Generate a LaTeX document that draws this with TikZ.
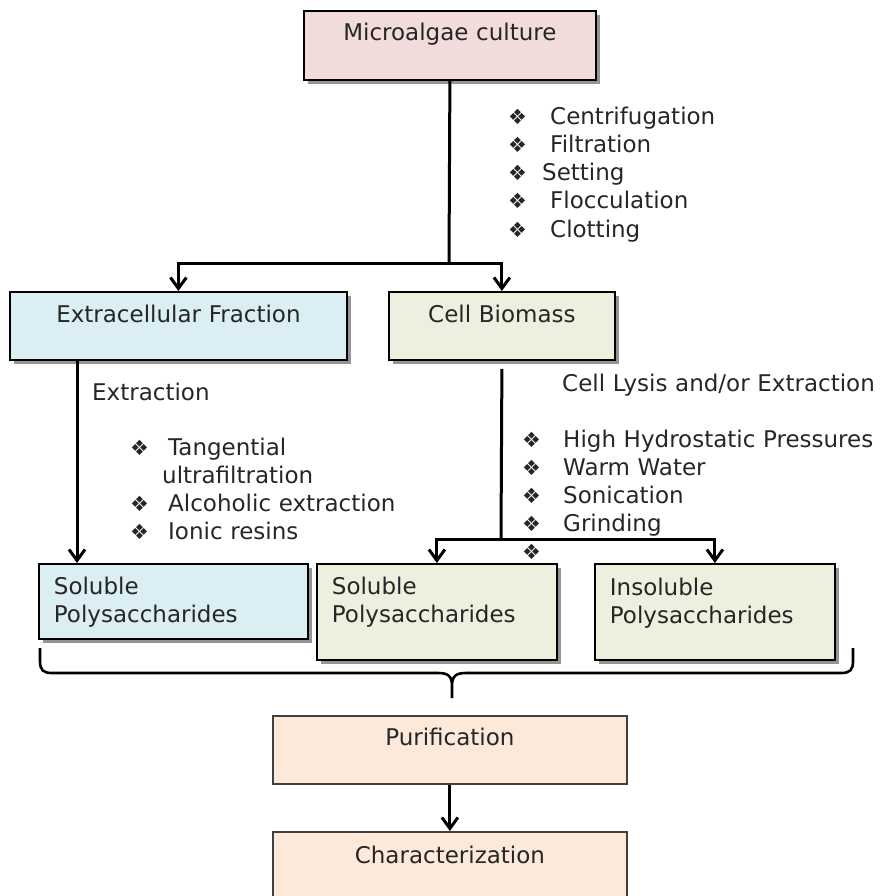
\documentclass[tikz,border=0pt]{standalone}
\usepackage{fontspec}
\setmainfont{DejaVu Sans}
\usepackage{tikz}
\usetikzlibrary{positioning,arrows.meta,shadows}
\definecolor{mypink}{RGB}{242,220,219}
\definecolor{myblue}{RGB}{219,238,244}
\definecolor{mygreen}{RGB}{235,241,222}
\definecolor{mypeach}{RGB}{253,233,217}
\newcommand{\bulsym}{{\fontsize{21}{24}\selectfont\char"2756}}
\newcommand{\bitem}[2][42pt]{\makebox[#1][l]{\bulsym}#2}
\tikzset{
  flowpic/.style={
    x=1pt
    ,y=-1pt
  }
  ,boxfont/.style={font=\fontsize{23}{28}\selectfont\color{black!85}}
  ,stepbox/.style={
    draw=black, line width=1.8pt,
    inner xsep=0pt, inner ysep=0pt,
    anchor=north west,
    align=center,
    boxfont
  }
  ,shadowed/.style={drop shadow={shadow xshift=4pt,shadow yshift=-4pt,fill=black!42,opacity=1}}
  ,leftbox/.style={stepbox,inner xsep=15pt,align=left}
  ,culture/.style={stepbox,shadowed,fill=mypink}
  ,extrabox/.style={stepbox,shadowed,fill=myblue}
  ,cellbox/.style={stepbox,shadowed,fill=mygreen}
  ,solbluebox/.style={leftbox,shadowed,fill=myblue}
  ,solgreenbox/.style={leftbox,shadowed,fill=mygreen}
  ,finalbox/.style={stepbox,draw=black!75,fill=mypeach}
  ,methods/.style={anchor=base west,inner sep=0pt,align=left,text width=420pt,boxfont}
  ,line/.style={line width=3pt}
  ,arrow/.style={line,-{Straight Barb[length=11pt,width=16pt]}}
  ,brace/.style={line width=2.6pt}
}
\begin{document}
\begin{tikzpicture}[flowpic]
  \useasboundingbox (0,0) rectangle (882,896);

  % top
  \node[culture,text width=292pt,text height=30pt,text depth=39pt] (culture) at (303,10) {Microalgae culture};
  \node[methods] (harvest) at (508,125) {\bitem{Centrifugation}\\ \bitem{Filtration}\\ \bitem[34pt]{Setting}\\ \bitem{Flocculation}\\ \bitem{Clotting}};

  % second row
  \node[extrabox,text width=337pt,text height=31pt,text depth=37pt] (extra) at (9,291) {Extracellular Fraction};
  \node[cellbox,text width=226pt,text height=31pt,text depth=37pt] (biomass) at (388,291) {Cell Biomass};

  % methods between rows
  \node[methods] (extraction) at (92,400) {Extraction};
  \node[methods] (extrlist) at (130,455) {\bitem[38pt]{Tangential}\\ \hspace*{32pt}ultrafiltration\\ \bitem[38pt]{Alcoholic extraction}\\ \bitem[38pt]{Ionic resins}};
  \node[methods] (lysis) at (562,391) {Cell Lysis and/or Extraction};
  \node[methods] (lysislist) at (522,447) {\bitem[41pt]{High Hydrostatic Pressures}\\ \bitem[41pt]{Warm Water}\\ \bitem[41pt]{Sonication}\\ \bitem[41pt]{Grinding}\\ \bitem[41pt]{}};

  % polysaccharides
  \node[solbluebox,text width=239pt,text height=31pt,text depth=44pt] (solblue) at (38,563) {Soluble\\Polysaccharides};
  \node[solgreenbox,text width=210pt,text height=31pt,text depth=65pt] (solgreen) at (316,563) {Soluble\\Polysaccharides};
  \node[solgreenbox,text width=210pt,text height=32pt,text depth=64pt] (insol) at (594,563) {Insoluble\\Polysaccharides};

  % bottom
  \node[finalbox,text width=354pt,text height=30pt,text depth=38pt] (purif) at (272,715) {Purification};
  \node[finalbox,text width=354pt,text height=32pt,text depth=37pt] (charact) at (272,831) {Characterization};

  % connectors
  \coordinate (split1) at (449,263);
  \coordinate (split2) at (501,539);
  \coordinate (xext) at (77,0);
  \draw[line] (culture.south) -- (split1);
  \draw[arrow] (split1) -| (extra.north);
  \draw[arrow] (split1) -| (biomass.north);
  \draw[arrow] (extra.south -| xext) -- (solblue.north -| xext);
  \draw[line] ([yshift=-8pt]biomass.south) -- (split2);
  \draw[arrow] (split2) -| (solgreen.north);
  \draw[arrow] (split2) -| (insol.north);
  \draw[arrow] (purif) -- (charact);

  % brace
  \draw[brace] (40,648) -- (40,661) .. controls (40,670) and (43,673) .. (52,673) -- (438,673)
    .. controls (448,673) and (452,676) .. (452,686) -- (452,698) -- (452,686)
    .. controls (452,676) and (456,673) .. (466,673) -- (841,673)
    .. controls (850,673) and (853,670) .. (853,661) -- (853,648);
\end{tikzpicture}
\end{document}
